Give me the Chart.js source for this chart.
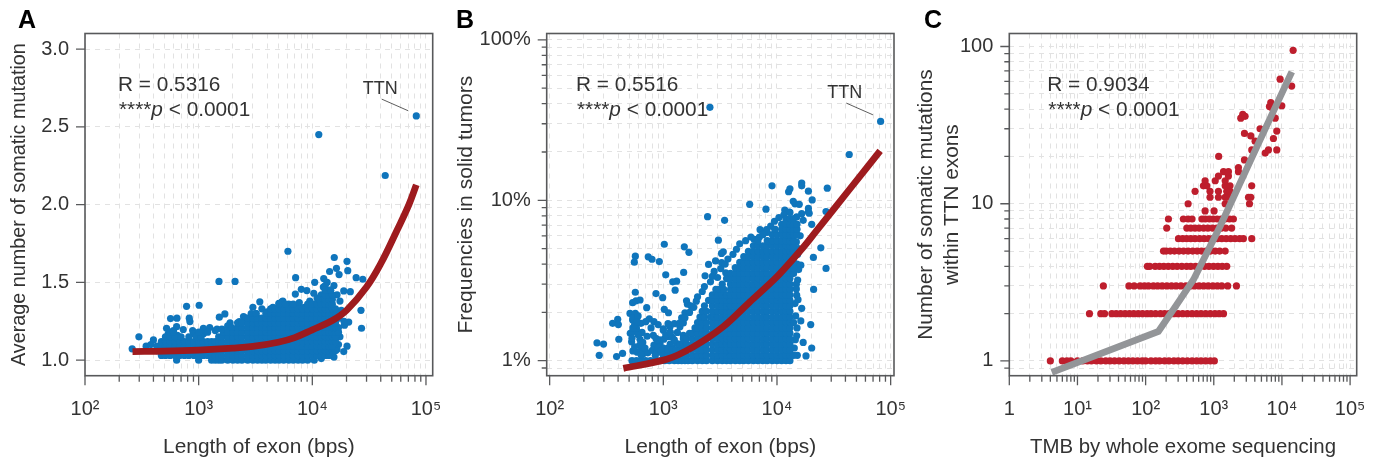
<!DOCTYPE html>
<html>
<head>
<meta charset="utf-8">
<script src="https://cdn.jsdelivr.net/npm/chart.js@4"></script>
<style>
body { margin: 0; background: #fff; }
canvas { position: absolute; top: 0; }
</style>
</head>
<body>
<canvas id="chartA" width="450" height="460" style="left:0"></canvas>
<canvas id="chartB" width="470" height="460" style="left:445px"></canvas>
<canvas id="chartC" width="471" height="460" style="left:905px"></canvas>
<script>
const xMajorAB = [100, 1000, 10000, 100000];
const xLabelsAB = ['10²', '10³', '10⁴', '10⁵'];
const xMinorAB = [200,300,400,500,600,700,800,900,2000,3000,4000,5000,6000,7000,8000,9000,20000,30000,40000,50000,60000,70000,80000,90000];
const xMajorC = [1, 10, 100, 1000, 10000, 100000];
const xLabelsC = ['1', '10¹', '10²', '10³', '10⁴', '10⁵'];
const xMinorC = [2,3,4,5,6,7,8,9,20,30,40,50,60,70,80,90,200,300,400,500,600,700,800,900,2000,3000,4000,5000,6000,7000,8000,9000,20000,30000,40000,50000,60000,70000,80000,90000];
const yMajorA = [1, 1.5, 2, 2.5, 3];
const yLabelsA = ['1.0', '1.5', '2.0', '2.5', '3.0'];
const yMajorB = [1, 10, 100];
const yLabelsB = ['1%', '10%', '100%'];
const yMajorC = [1, 10, 100];
const yLabelsC = ['1', '10', '100'];
const yMinorLog = [0.9,2,3,4,5,6,7,8,9,20,30,40,50,60,70,80,90];

// panel A - scattered exons
const aOutX = [82200,43800,11400,6100,15600,20200,20500,16300,14200,17200,24300,27800,7130,1510,2090,12600,10500,8000,8950,7090,10300,18900,21600,3450,5080,5400,7680,1010,783,26800,27100,20900,19200,20200,18900,260,298,400,566,644,827,838,732,885,1100,640,1520,1700,1890,2480,2280,522,540,345,380,1250,1400,3000,3200,2600,2300,3600,4000,4500,5000,5500,6200,7000,8500,9500,10500,11000,12000,12500,13500,14500,15500,16500,17500,13000,18000,19000,17500,17000,16500,15500,12000,600,650,900,1100,1200,1450,1600,1800];
const aOutY = [2.57,2.187,2.45,1.70,1.66,1.635,1.575,1.59,1.57,1.55,1.53,1.52,1.53,1.506,1.506,1.525,1.50,1.455,1.447,1.425,1.43,1.445,1.44,1.375,1.365,1.375,1.37,1.353,1.346,1.32,1.205,1.245,1.225,1.09,1.055,1.073,1.15,1.13,1.267,1.27,1.27,1.248,1.197,1.19,1.205,1.215,1.276,1.297,1.24,1.28,1.248,1.205,1.17,1.09,1.10,1.21,1.19,1.34,1.30,1.27,1.22,1.33,1.31,1.34,1.33,1.38,1.36,1.35,1.34,1.38,1.36,1.40,1.42,1.47,1.50,1.45,1.48,1.42,1.38,1.48,1.32,1.25,1.15,1.10,1.07,1.02,1.01,1.19,1.16,1.17,1.17,1.18,1.20,1.20,1.22];
// panel A - the overplotted mass, row by row
const aLevels = [1.00,1.03,1.06,1.09,1.12,1.15,1.18,1.21,1.24,1.27,1.30,1.33,1.36,1.39,1.42,1.45];
const aRows = [
  [640,1000,1300,1400,1500,1600,1800,2000,2200,2400,2700,3000,3300,3600,3900,4300,4700,5100,5600,6200,6800,7500,8200,9100,10400],
  [470,510,560,620,680,750,820,910,1000,1100,1200,1300,1400,1500,1600,1800,2000,2200,2400,2700,3000,3300,3600,3900,4300,4700,5100,5600,6200,6800,7500,8200,9100,10000,11000,12000,13000,14000],
  [430,470,510,560,620,680,750,820,910,1000,1100,1200,1300,1400,1500,1600,1800,2000,2200,2400,2700,3000,3300,3600,3900,4300,4700,5100,5600,6200,6800,7500,8200,9100,10000,11000,12000,13000,14000,15000,16000],
  [430,470,510,560,620,680,750,820,910,1000,1100,1200,1300,1400,1500,1600,1800,2000,2200,2400,2700,3000,3300,3600,3900,4300,4700,5100,5600,6200,6800,7500,8200,9100,10000,11000,12000,13000,14000,15000],
  [470,510,560,620,680,750,820,910,1000,1100,1200,1300,1400,1500,1600,1800,2000,2200,2400,2700,3000,3300,3600,3900,4300,4700,5100,5600,6200,6800,7500,8200,9100,10000,11000,12000,13000,14000,15000,16000],
  [510,560,620,700,820,950,1050,1500,1600,1800,2000,2200,2400,2700,3000,3300,3600,3900,4300,4700,5100,5600,6200,6800,7500,8200,9100,10000,11000,12000,13000,14000,15000,16000],
  [560,600,1000,1650,1800,2000,2200,2400,2700,3000,3300,3600,3900,4300,4700,5100,5600,6200,6800,7500,8200,9100,10000,11000,12000,13000,14000,15000,16000,17000],
  [1950,2200,2400,2700,3000,3300,3600,3900,4300,4700,5100,5600,6200,6800,7500,8200,9100,10000,11000,12000,13000,14000,15000,16000,17000],
  [2200,2400,2700,3000,3300,3600,3900,4300,4700,5100,5600,6200,6800,7500,8200,9100,10000,11000,12000,13000,14000,15000,16000],
  [2700,3000,3300,3600,3900,4300,4700,5100,5600,6200,6800,7500,8200,9100,10000,11000,12000,13000,14000,15000,16000,17000],
  [2900,3200,3900,4300,4700,5100,5600,6200,6800,7500,8200,9100,10000,11000,12000,13000,14000,15000,16000],
  [4300,4700,5100,5600,6200,6800,7500,8200,9100,10000,11000,12000,13000,14000,15000,16000],
  [5100,5800,6800,9100,10000,11000,12000,13000,14000,15000],
  [11500,12500,13000,14000,15000],
  [13000,14000,15000],
  [13000,14500]
];
const aFitX = [262,500,1000,2000,3000,5000,7000,10000,15000,20000,30000,40000,55800,70800,82200];
const aFitY = [1.055,1.058,1.065,1.077,1.088,1.115,1.145,1.195,1.255,1.32,1.47,1.62,1.837,2.0,2.127];

// panel B - scattered exons
const bOutX = [81600,2570,43200,9040,13000,12650,16500,16500,18900,27700,20400,13900,14400,15700,5750,8000,18900,18900,27000,11700,12800,2450,3460,16500,19200,14900,17000,20200,11000,7100,8100,9600,1020,1530,1680,567,556,737,795,922,3050,3370,3250,2880,3260,2500,1510,1050,3540,2330,1310,1210,1270,567,862,987,537,624,575,714,1600,1630,1020,1110,1550,509,567,358,397,402,537,753,827,636,512,406,261,298,273,388,438,526,623,645,817,827,1000,1145,1105,935,1400,1500,1310,27000,24300,20900,21000,19800,16200,20200,17000,18000,15100,14900,15200,14900,14400,16500,16200,540,590,660,730,800,880,960,1050,530,580,650,720,860,930,1010,1200,1150,1250,540,600,700,780,900,1000,1100,
  2000,2200,2300,2600,2700,2800,3000,3200,3500,3700,4100,4400,4700,5300,5900,6300,7000,7600,8200,8800,9500,10400,11500,13000,12000,14800,15200,15500,14800,15300,14600,15000,14500,14200,14800,15000,15400,16000,1150,1250,1050,1150,1000,1100,1200,900,950,880,620,660,600,580,540,560,530,560,590,690,1330,1400,1500,1450,1700,1750,1850,1950,1550];
const bOutY = [31,38,19.3,12.3,11.8,11.3,12.8,12.3,11.4,11.9,10.05,9.85,9.5,9.44,9.44,8.8,8.9,8.45,8.5,8.7,8.45,7.9,7.5,8.25,8.3,7.87,7.5,7.08,7.08,6.56,6.56,6.6,5.32,5.13,4.74,4.48,4.11,4.44,4.29,4.15,5.64,4.77,4.66,4.19,4.09,3.98,3.55,3.43,3.53,3.38,3.13,3.10,2.75,2.67,2.62,2.47,2.30,2.39,2.36,2.14,2.36,2.25,2.09,1.99,1.99,1.97,1.97,1.71,1.81,1.68,1.79,1.82,1.75,1.71,1.48,1.36,1.29,1.27,1.08,1.06,1.11,1.31,1.36,1.19,1.44,1.25,1.55,1.63,1.41,1.28,1.63,1.44,1.28,3.76,5.05,4.4,2.78,1.68,1.77,1.2,1.3,1.07,1.08,1.43,3.18,2.56,2.27,2.12,3.94,1.15,1.13,1.1,1.12,1.16,1.14,1.13,1.12,1.5,1.55,1.5,1.42,1.38,1.35,1.36,1.4,1.5,1.7,1.85,1.9,1.75,1.6,1.68,1.58,1.7,
  2.5,2.7,2.9,3.1,3.35,3.6,3.3,3.75,4.0,4.3,4.6,4.95,5.35,5.6,5.9,5.7,5.9,6.2,6.3,6.9,7.4,7.8,8.1,8.4,7.6,5.5,4.6,3.7,3.0,2.4,1.9,1.6,1.35,1.2,2.8,4.0,5.0,6.0,1.27,1.35,1.45,1.5,1.2,1.2,1.2,1.2,1.15,1.35,1.25,1.3,1.45,1.6,1.6,1.68,1.38,1.22,1.75,1.2,1.5,1.72,1.72,1.85,2.0,2.2,2.15,2.35,1.85];
// panel B - the overplotted mass, row by row
const bLevels = [1.0,1.08,1.17,1.27,1.37,1.48,1.6,1.73,1.87,2.03,2.2,2.38,2.57,2.78,3.0,3.25,3.5,3.8,4.1,4.45,4.8,5.2,5.6,6.1,6.6,7.1,7.7];
const bRows = [
  [530,580,640,700,770,850,940,1030,1130,1250,1350,1450,1550,1650,1800,2000,2200,2400,2700,3000,3300,3600,3900,4300,4700,5100,5600,6200,6800,7500,8200,9100,10000,11000,12000,13000],
  [640,850,1000,1100,1200,1300,1400,1500,1600,1800,2000,2200,2400,2700,3000,3300,3600,3900,4300,4700,5100,5600,6200,6800,7500,8200,9100,10000,11000,12000,13000,14000],
  [1100,1200,1300,1400,1500,1600,1800,2000,2200,2400,2700,3000,3300,3600,3900,4300,4700,5100,5600,6200,6800,7500,8200,9100,10000,11000,12000,13000],
  [1400,1500,1600,1800,2000,2200,2400,2700,3000,3300,3600,3900,4300,4700,5100,5600,6200,6800,7500,8200,9100,10000,11000,12000,13000],
  [1500,1600,1800,2000,2200,2400,2700,3000,3300,3600,3900,4300,4700,5100,5600,6200,6800,7500,8200,9100,10000,11000,12000,13000],
  [1700,1800,2000,2200,2400,2700,3000,3300,3600,3900,4300,4700,5100,5600,6200,6800,7500,8200,9100,10000,11000,12000,13000],
  [1900,2000,2200,2400,2700,3000,3300,3600,3900,4300,4700,5100,5600,6200,6800,7500,8200,9100,10000,11000,12000,13000],
  [2000,2200,2400,2700,3000,3300,3600,3900,4300,4700,5100,5600,6200,6800,7500,8200,9100,10000,11000,12000,13000,14000],
  [2100,2300,2600,2800,3000,3300,3600,3900,4300,4700,5100,5600,6200,6800,7500,8200,9100,10000,11000,12000,13000],
  [2200,2400,2700,3000,3300,3600,3900,4300,4700,5100,5600,6200,6800,7500,8200,9100,10000,11000,12000,13000],
  [2300,2700,3000,3300,3600,3900,4300,4700,5100,5600,6200,6800,7500,8200,9100,10000,11000,12000,13000],
  [2500,2700,3000,3300,3600,3900,4300,4700,5100,5600,6200,6800,7500,8200,9100,10000,11000,12000,13000],
  [2700,3000,3300,3600,3900,4300,4700,5100,5600,6200,6800,7500,8200,9100,10000,11000,12000,13000],
  [2900,3100,3400,3900,4300,4700,5100,5600,6200,6800,7500,8200,9100,10000,11000,12000,13000],
  [3300,3900,4300,4700,5100,5600,6200,6800,7500,8200,9100,10000,11000,12000,13000],
  [3600,3900,4300,4700,5100,5600,6200,6800,7500,8200,9100,10000,11000,12000,13000],
  [3900,4300,4700,5100,5600,6200,6800,7500,8200,9100,10000,11000,12000,13000,14000],
  [4300,4700,5100,5600,6200,6800,7500,8200,9100,10000,11000,12000,13000,14000],
  [4700,5100,5600,6200,6800,7500,8200,9100,10000,11000,12000,13000,14000],
  [5100,5600,6200,6800,7500,8200,9100,10000,11000,12000,13000,14000],
  [5600,6200,6800,7500,8200,9100,10000,11000,12000,13000,14000],
  [6200,6800,7500,8200,9100,10000,11000,12000,13000,14000],
  [6800,8200,9100,10000,11000,12000,13000,14000],
  [7500,9100,10000,11000,12000,13000,14000,15000],
  [9600,11000,12000,13000,14000,15000],
  [12000,13000,14000,15000],
  [13000,14000]
];
const bFitX = [445,1070,1837,3370,5790,9950,17050,22400,43900,80800];
const bFitY = [0.896,1.02,1.22,1.63,2.33,3.33,5.1,6.5,11.8,20.3];

// panel C - integer counts, one row per count
const cLevels = [1,2,3,4,5,6,7,8,9,10,11,12,13,14,15,16,17,19,20];
const cRows = [
  [4,6,7,8,10,12,14,16,19,22,26,30,35,41,48,56,65,76,89,100,120,140,160,190,220,260,300,350,410,480,560,650,760,890,1020],
  [15,22,25,32,37,43,50,58,67,78,90,105,120,140,165,190,220,260,300,350,410,480,560,650,760,890,1040,1200,1390],
  [24,57,68,83,96,110,130,150,175,205,240,280,330,390,450,520,610,710,830,970,1130,1310,1600,2150],
  [106,115,138,160,185,215,250,290,340,400,460,540,630,730,850,990,1150,1330,1550],
  [183,200,230,265,310,360,420,490,570,660,770,900,1050,1220,1470],
  [303,350,400,460,530,620,720,840,970,1130,1310,1520,1770,2050,2400,2720,3610],
  [204,402,460,530,610,710,820,960,1110,1290,1500,1830],
  [216,358,420,480,670,750,860,980,1120,1280,1460,1700,1940],
  [746,1010],
  [420,1470,3340],
  [880,1170,1470,1640,3230,3490],
  [532,880,1170,1550,1730],
  [705,790,1470,1730,3600],
  [746,1050,1470],
  [1170,1640],
  [1390,1640,2300],
  [2300],
  [2820],
  [1180]
];
const cOutX = [5680,6340,3610,8400,4040,3490,7500,2820,4780,8400,7960,2490,2660,2880,9950,6560,6860,7100,13900,9400,14600];
const cOutY = [21,22,22,22,25,27,26,28,30,29,35,35,37,36,42,41.5,44,41,56,62,94.6];
const cFitX = [4.2,154,286,504,790,1240,4280,13950];
const cFitY = [0.846,1.54,2.28,3.29,4.86,7.2,23,69];

const FONT = '"Liberation Sans", Arial, sans-serif';
const TEXT = '#333333';
const BLUE = '#0f75bc';
const DARKRED = '#9e1b1e';
const RED = '#be1e2d';
const GREY = '#939598';

function zip(xs, ys) {
  return xs.map((x, i) => ({ x: x, y: ys[i] }));
}

function rowsToPoints(levels, rows) {
  const out = [];
  levels.forEach((y, i) => rows[i].forEach(x => out.push({ x: x, y: y })));
  return out;
}

// box, outward ticks and the texts that are not axis labels
function framePlugin(p) {
  return {
    id: 'frame',
    afterDraw(chart) {
      const c = chart.ctx;
      const a = chart.chartArea;
      const sx = chart.scales.x;
      const sy = chart.scales.y;
      c.save();
      c.strokeStyle = '#58595b';
      c.lineWidth = 1.6;
      c.strokeRect(a.left, a.top, a.right - a.left, a.bottom - a.top);
      c.lineWidth = 1.3;
      c.beginPath();
      p.xMajor.forEach(v => { const x = sx.getPixelForValue(v); c.moveTo(x, a.bottom); c.lineTo(x, a.bottom + 9.5); });
      p.xMinor.forEach(v => { const x = sx.getPixelForValue(v); c.moveTo(x, a.bottom); c.lineTo(x, a.bottom + 6); });
      p.yMajor.forEach(v => { const y = sy.getPixelForValue(v); c.moveTo(a.left, y); c.lineTo(a.left - 9, y); });
      p.yMinor.forEach(v => { const y = sy.getPixelForValue(v); c.moveTo(a.left, y); c.lineTo(a.left - 5, y); });
      c.stroke();

      c.fillStyle = TEXT;
      c.textBaseline = 'alphabetic';
      c.textAlign = 'left';
      c.font = '20.8px ' + FONT;
      c.fillText(p.r, p.textX, 91);
      let x = p.textX + 1;
      c.fillText('****', x, 116);
      x += c.measureText('****').width;
      c.font = 'italic 20.8px ' + FONT;
      c.fillText('p', x, 116);
      x += c.measureText('p').width;
      c.font = '20.8px ' + FONT;
      c.fillText(' < 0.0001', x, 116);

      if (p.ttn) {
        c.font = '18px ' + FONT;
        c.fillText('TTN', p.ttn[0], p.ttn[1]);
        c.strokeStyle = '#333';
        c.lineWidth = 0.8;
        c.beginPath();
        c.moveTo(p.ttn[0] + 19, p.ttn[1] + 4.8);
        c.lineTo(p.ttn[0] + 45.6, p.ttn[1] + 16.5);
        c.stroke();
      }
      c.fillStyle = '#000';
      c.font = 'bold 25px ' + FONT;
      c.fillText(p.letter, p.letterX, 28);
      c.restore();
    }
  };
}

function makePanel(id, p) {
  new Chart(document.getElementById(id), {
    type: 'scatter',
    data: {
      datasets: [
        { data: p.fit, showLine: true, borderColor: p.fitColor, borderWidth: 6.8, pointRadius: 0, tension: p.tension, borderCapStyle: 'butt', order: 1 },
        { data: p.points, backgroundColor: p.dotColor, borderWidth: 0, pointRadius: 3.6, order: 2 }
      ]
    },
    options: {
      responsive: false,
      animation: false,
      layout: { padding: { top: 33.5, right: p.padRight, left: 0, bottom: 0 } },
      plugins: { legend: { display: false }, tooltip: { enabled: false } },
      scales: {
        x: {
          type: 'logarithmic',
          bounds: 'data',
          min: p.xMin,
          max: p.xMax,
          afterBuildTicks: s => { s.ticks = p.xMajor.concat(p.xMinor).sort((a, b) => a - b).map(v => ({ value: v })); },
          afterFit: s => { s.height = 460 - 375.7; s.paddingLeft = 0; s.paddingRight = 0; },
          grid: { color: '#e2e2e2', drawTicks: false },
          border: { display: false, dash: [5, 5] },
          ticks: {
            autoSkip: false, maxRotation: 0, padding: 21.5, color: TEXT,
            font: { family: FONT, size: 20 },
            callback: v => { const i = p.xMajor.indexOf(v); return i >= 0 ? p.xLabels[i] : ''; }
          },
          title: { display: true, text: p.xTitle, color: TEXT, font: { family: FONT, size: p.xTitleSize }, padding: { top: 0, bottom: 0 } }
        },
        y: {
          type: p.yType,
          bounds: 'data',
          min: p.yMin,
          max: p.yMax,
          afterBuildTicks: s => { s.ticks = p.yMajor.concat(p.yMinor).sort((a, b) => a - b).map(v => ({ value: v })); },
          afterFit: s => { s.width = p.areaLeft; s.paddingTop = 0; s.paddingBottom = 0; },
          grid: { color: '#e2e2e2', drawTicks: false },
          border: { display: false, dash: [5, 5] },
          ticks: {
            autoSkip: false, maxRotation: 0, padding: 16, color: TEXT,
            font: { family: FONT, size: 20 },
            callback: v => { const i = p.yMajor.indexOf(v); return i >= 0 ? p.yLabels[i] : ''; }
          },
          title: { display: true, text: p.yTitle, color: TEXT, font: { family: FONT, size: p.yTitleSize, lineHeight: 1.27 }, padding: { top: p.titlePad, bottom: 0 } }
        }
      }
    },
    plugins: [framePlugin(p)]
  });
}

makePanel('chartA', {
  letter: 'A', letterX: 18, r: 'R = 0.5316', textX: 118, ttn: [362.7, 94.3],
  areaLeft: 85, padRight: 450 - 432.7, titlePad: 7, tension: 0.4,
  xMin: 100, xMax: 114600, yType: 'linear', yMin: 0.9, yMax: 3.1,
  xMajor: xMajorAB, xLabels: xLabelsAB, xMinor: xMinorAB,
  yMajor: yMajorA, yLabels: yLabelsA, yMinor: [],
  xTitle: 'Length of exon (bps)', yTitle: 'Average number of somatic mutation',
  xTitleSize: 20.9, yTitleSize: 19.8,
  points: zip(aOutX, aOutY).concat(rowsToPoints(aLevels, aRows)), dotColor: BLUE,
  fit: zip(aFitX, aFitY), fitColor: DARKRED
});

makePanel('chartB', {
  letter: 'B', letterX: 11, r: 'R = 0.5516', textX: 131, ttn: [382.3, 98.3],
  areaLeft: 101.7, padRight: 470 - 449, titlePad: 8, tension: 0.3,
  xMin: 94.2, xMax: 107000, yType: 'logarithmic', yMin: 0.806, yMax: 109.6,
  xMajor: xMajorAB, xLabels: xLabelsAB, xMinor: xMinorAB,
  yMajor: yMajorB, yLabels: yLabelsB, yMinor: yMinorLog,
  xTitle: 'Length of exon (bps)', yTitle: 'Frequencies in solid tumors',
  xTitleSize: 20.9, yTitleSize: 21.1,
  points: zip(bOutX, bOutY).concat(rowsToPoints(bLevels, bRows)), dotColor: BLUE,
  fit: zip(bFitX, bFitY), fitColor: DARKRED
});

makePanel('chartC', {
  letter: 'C', letterX: 19, r: 'R = 0.9034', textX: 142.3, ttn: null,
  areaLeft: 104.3, padRight: 471 - 451.7, titlePad: 8, tension: 0,
  xMin: 1, xMax: 125000, yType: 'logarithmic', yMin: 0.806, yMax: 121,
  xMajor: xMajorC, xLabels: xLabelsC, xMinor: xMinorC,
  yMajor: yMajorC, yLabels: yLabelsC, yMinor: yMinorLog,
  xTitle: 'TMB by whole exome sequencing', yTitle: ['Number of somatic mutations', 'within TTN exons'],
  xTitleSize: 20.4, yTitleSize: 20.8,
  points: zip(cOutX, cOutY).concat(rowsToPoints(cLevels, cRows)), dotColor: RED,
  fit: zip(cFitX, cFitY), fitColor: GREY
});
</script>
</body>
</html>
